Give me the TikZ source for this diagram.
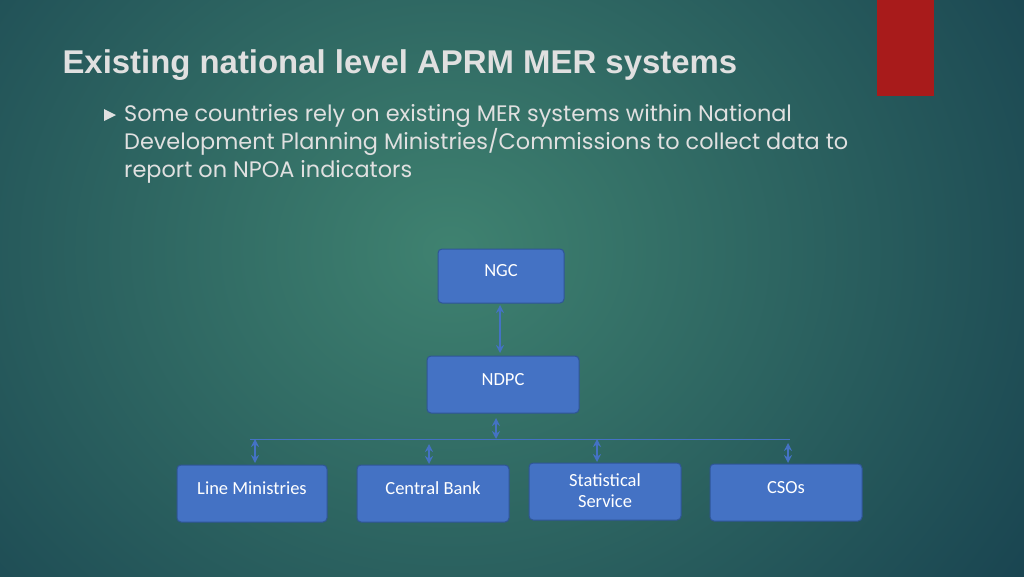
\documentclass[tikz,border=0pt]{standalone}
\usepackage{fontspec}
\setmainfont{Poppins}
\newfontfamily\titlefont{Liberation Sans}
\newfontfamily\boxfont{Carlito}
\usetikzlibrary{arrows.meta}
\definecolor{bgc}{HTML}{3F8270}
\definecolor{bge}{HTML}{163F4E}
\definecolor{boxf}{HTML}{4472C4}
\definecolor{boxd}{HTML}{2F5597}
\definecolor{lnc}{HTML}{4472C4}
\definecolor{redc}{HTML}{A81B1B}
\definecolor{txt}{HTML}{E0E0E0}
\tikzset{
  orgbox/.style={draw=boxd, line width=1pt, fill=boxf, rounded corners=4pt, inner sep=0pt},
  boxtext/.style={text=white, font=\boxfont\fontsize{18.5}{22}\selectfont, align=center},
  conn/.style={draw=lnc, line width=1.2pt, {Stealth[length=8pt,width=8pt]}-{Stealth[length=8pt,width=8pt]}}
}
\begin{document}
\begin{tikzpicture}[x=1pt,y=-1pt]
\useasboundingbox (0,0) rectangle (1024,576);
\shade[inner color=bgc, outer color=bge] (-300,-400) rectangle (1200,900);
\clip (0,0) rectangle (1024,576);
\fill[redc] (877,0) rectangle (934,96);
\node[anchor=west, text=txt, font=\titlefont\bfseries\fontsize{32.9}{40}\selectfont] (title) at (59,65) {Existing national level APRM MER systems};
\fill[txt] (104,109) -- (116,115) -- (104,121) -- cycle;
\node[anchor=north west, text=txt, align=left, inner sep=0pt, font=\fontsize{22.4}{28}\selectfont] (body) at (124,104) {Some countries rely on existing MER systems within National\\Development Planning Ministries/Commissions to collect data to\\report on NPOA indicators};
\node[orgbox, minimum width=126pt, minimum height=54pt] (ngc) at (501,276) {};
\node[boxtext] at (501,271) {NGC};
\node[orgbox, minimum width=152pt, minimum height=57pt] (ndpc) at (503,384.5) {};
\node[boxtext] at (503,380) {NDPC};
\node[orgbox, minimum width=150pt, minimum height=57pt] (lm) at (252,493.5) {};
\node[boxtext] at (252,488) {Line Ministries};
\node[orgbox, minimum width=152pt, minimum height=57pt] (cb) at (433,493.5) {};
\node[boxtext] at (433,488) {Central Bank};
\node[orgbox, minimum width=152pt, minimum height=57pt] (ss) at (605,491.5) {};
\node[boxtext, font=\boxfont\fontsize{18.5}{21}\selectfont] at (605,491) {Statistical\\Service};
\node[orgbox, minimum width=152pt, minimum height=57pt] (cso) at (786,492.5) {};
\node[boxtext] at (786,488) {CSOs};
\coordinate (hl) at (250,439);
\coordinate (hr) at (790,439);
\draw[draw=lnc, line width=0.8pt] (hl) -- (hr);
\draw[conn] (500,305) -- (500,353);
\draw[conn] (496,418) -- (496,439);
\draw[conn] (255,439) -- (255,463);
\draw[conn] (429,444) -- (429,464);
\draw[conn] (597,439) -- (597,462);
\draw[conn] (788,443) -- (788,463);
\end{tikzpicture}
\end{document}
